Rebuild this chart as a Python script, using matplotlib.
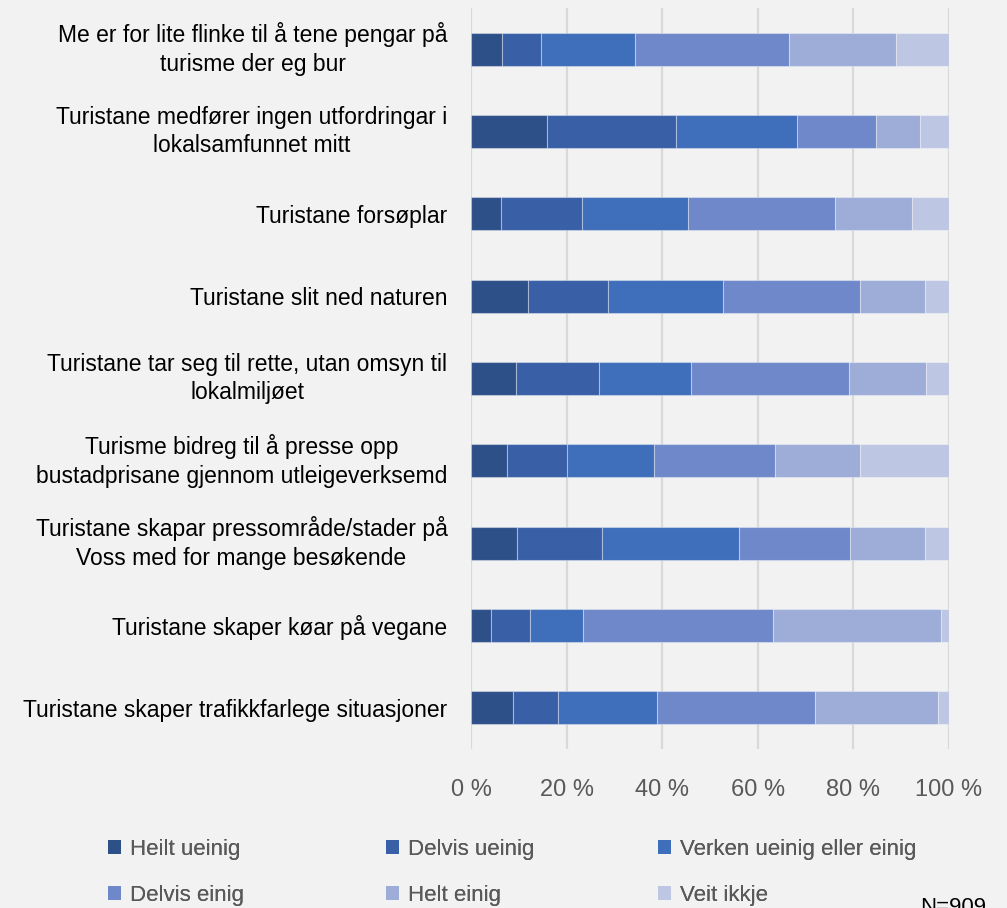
import matplotlib
matplotlib.use("Agg")
import matplotlib.pyplot as plt
from matplotlib.patches import Patch
import numpy as np

plt.rcParams['font.family'] = ['Liberation Sans', 'DejaVu Sans']

categories = [
    "Me er for lite flinke til å tene pengar på\nturisme der eg bur",
    "Turistane medfører ingen utfordringar i\nlokalsamfunnet mitt",
    "Turistane forsøplar",
    "Turistane slit ned naturen",
    "Turistane tar seg til rette, utan omsyn til\nlokalmiljøet",
    "Turisme bidreg til å presse opp\nbustadprisane gjennom utleigeverksemd",
    "Turistane skapar pressområde/stader på\nVoss med for mange besøkende",
    "Turistane skaper køar på vegane",
    "Turistane skaper trafikkfarlege situasjoner",
]
series_names = ["Heilt ueinig", "Delvis ueinig", "Verken ueinig eller einig",
                "Delvis einig", "Helt einig", "Veit ikkje"]
heilt_ueinig  = [6.5, 15.8, 6.3, 12.0, 9.5, 7.5, 9.7, 4.2, 8.8]
delvis_ueinig = [8.2, 27.0, 17.0, 16.7, 17.3, 12.6, 17.8, 8.2, 9.3]
verken        = [19.6, 25.3, 22.0, 24.1, 19.2, 18.2, 28.6, 11.1, 20.8]
delvis_einig  = [32.2, 16.7, 30.9, 28.6, 33.0, 25.3, 23.2, 39.7, 33.1]
helt_einig    = [22.4, 9.1, 16.1, 13.6, 16.2, 17.8, 15.7, 35.1, 25.7]
veit_ikkje    = [11.1, 6.1, 7.7, 5.0, 4.8, 18.6, 5.0, 1.7, 2.3]
tick_labels = ["0 %", "20 %", "40 %", "60 %", "80 %", "100 %"]

colors = ["#2E5089", "#3960A6", "#3F6EBA", "#6E88CA", "#9DADD8", "#BDC7E3"]
series = [heilt_ueinig, delvis_ueinig, verken, delvis_einig, helt_einig, veit_ikkje]

bg = "#F2F2F2"
fig = plt.figure(figsize=(10.07, 9.08), dpi=100, facecolor=bg)
ax = fig.add_axes([471/1007, 1-749/908, 478/1007, 741/908], facecolor=bg)

y = np.arange(len(categories))
left = np.zeros(len(categories))
for vals, col, name in zip(series, colors, series_names):
    v = np.array(vals)
    ax.barh(y, v, left=left, height=0.4, color=col, edgecolor=(1, 1, 1, 0.35),
            linewidth=0.8, label=name, zorder=3)
    left += v

ax.set_ylim(len(categories) - 0.5, -0.5)
ax.set_xlim(0, 100)
ax.set_yticks(y)
ax.set_yticklabels(categories, fontsize=16.5, color="#000000", linespacing=1.3)
for lbl in ax.get_yticklabels():
    lbl.set_multialignment('center')
    if "\n" in lbl.get_text():
        lbl.set_verticalalignment('center')
ax.set_xticks(np.arange(0, 101, 20))
ax.set_xticklabels(tick_labels, fontsize=17, color="#595959")
ax.tick_params(axis='y', length=0, pad=17)
ax.tick_params(axis='x', length=0, pad=21.5)
for s in ax.spines.values():
    s.set_visible(False)
ax.grid(axis='x', color="#D9D9D9", linewidth=1.6, zorder=0)
ax.set_axisbelow(True)

handles = [Patch(facecolor=c, edgecolor='none') for c in colors]
col_x = [108/1007, 386/1007, 658/1007]
for i in range(3):
    leg = fig.legend([handles[i], handles[i+3]], [series_names[i], series_names[i+3]],
                     loc='upper left', bbox_to_anchor=(col_x[i], 1-839/908),
                     frameon=False, fontsize=16, labelcolor="#595959",
                     handlelength=0.6, handleheight=0.6, handletextpad=0.4,
                     labelspacing=1.13, borderaxespad=0, borderpad=0)
    fig.add_artist(leg)

fig.text(920/1007, 1-897/908, "N=909", fontsize=16, color="#000000", va='top', ha='left')

fig.savefig("out.png", dpi=100, facecolor=bg)
